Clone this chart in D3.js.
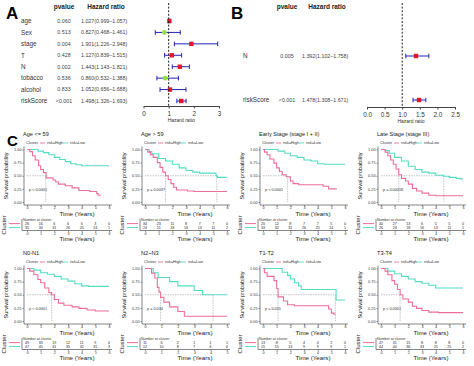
<!DOCTYPE html>
<html>
<head>
<meta charset="utf-8">
<script src="https://cdn.jsdelivr.net/npm/d3@7"></script>
<style>
  body { margin: 0; background: #fff; }
  svg { font-family: "Liberation Sans", Arial, sans-serif; display: block; }
</style>
</head>
<body>
<script>
// ---- forest plot A (multivariate Cox)
const varsA = ['age', 'Sex', 'stage', 'T', 'N', 'tobacco', 'alcohol', 'riskScore'];
const pvalA = ['0.060', '0.513', '0.004', '0.428', '0.002', '0.536', '0.833', '<0.001'];
const hrA = [1.027, 0.827, 1.901, 1.127, 1.443, 0.860, 1.052, 1.498];
const loA = [0.999, 0.468, 1.226, 0.839, 1.143, 0.532, 0.656, 1.326];
const hiA = [1.057, 1.461, 2.948, 1.515, 1.821, 1.388, 1.688, 1.693];

// ---- forest plot B
const varsB = ['N', 'riskScore'];
const pvalB = ['0.005', '<0.001'];
const hrB = [1.392, 1.478];
const loB = [1.102, 1.308];
const hiB = [1.758, 1.671];

// ---- KM subgroups
const kmTitles = ['Age <= 59', 'Age > 59', 'Early Stage (stage I + II)', 'Late Stage (stage III)',
                  'N0-N1', 'N2~N3', 'T1-T2', 'T3-T4'];
const kmPvals = ['p < 0.0001', 'p = 0.0037', 'p < 0.0001', 'p = 0.00058',
                 'p < 0.0001', 'p = 0.034', 'p = 0.055', 'p < 0.0001'];
const kmMaxT = [6, 6, 6, 6, 6, 5, 6, 6];
// [time, survival] knots
const kmHigh = [
  [[0,1],[0.2,0.96],[0.4,0.88],[0.6,0.8],[0.85,0.69],[1.0,0.62],[1.2,0.56],[1.4,0.46],[1.9,0.42],[2.1,0.38],[2.3,0.34],[2.8,0.31],[3.3,0.27],[3.8,0.22],[4.6,0.2],[5.1,0.16],[5.2,0.13],[5.4,0.13]],
  [[0,1],[0.2,0.95],[0.4,0.9],[0.6,0.85],[0.9,0.75],[1.1,0.66],[1.3,0.57],[1.5,0.5],[1.7,0.43],[1.9,0.35],[2.1,0.28],[2.3,0.23],[3.1,0.21],[3.6,0.2],[6,0.2]],
  [[0,1],[0.1,0.95],[0.3,0.9],[0.5,0.82],[0.8,0.74],[1.0,0.65],[1.2,0.58],[1.4,0.52],[1.7,0.48],[2.0,0.4],[2.2,0.35],[2.6,0.33],[4.4,0.3],[4.8,0.25],[5.4,0.25]],
  [[0,1],[0.3,0.95],[0.5,0.88],[0.7,0.8],[0.9,0.72],[1.1,0.63],[1.3,0.52],[1.5,0.45],[1.8,0.4],[2.0,0.34],[2.3,0.26],[2.6,0.21],[3.0,0.17],[3.5,0.13],[4.0,0.12],[6,0.12]],
  [[0,1],[0.2,0.95],[0.5,0.88],[0.8,0.79],[1.0,0.73],[1.3,0.63],[1.6,0.54],[1.8,0.5],[2.0,0.41],[2.3,0.34],[2.7,0.3],[3.3,0.27],[3.8,0.24],[4.4,0.21],[5.0,0.19],[6,0.19]],
  [[0,1],[0.4,0.91],[0.6,0.82],[0.75,0.64],[0.85,0.55],[0.95,0.45],[1.15,0.36],[1.5,0.27],[2.0,0.18],[2.4,0.09],[5,0.09]],
  [[0,1],[0.1,0.92],[0.3,0.85],[0.8,0.77],[1.0,0.62],[1.1,0.46],[1.5,0.38],[1.8,0.31],[2.3,0.29],[4.8,0.23],[5.0,0.15],[5.2,0.13],[5.3,0.13]],
  [[0,1],[0.3,0.95],[0.5,0.88],[0.8,0.77],[1.0,0.7],[1.2,0.6],[1.4,0.5],[1.6,0.42],[2.0,0.36],[2.3,0.28],[2.6,0.24],[3.0,0.2],[3.5,0.17],[4.2,0.16],[6,0.16]]
];
const kmLow = [
  [[0,1],[0.8,0.97],[1.2,0.94],[1.6,0.9],[2.0,0.85],[2.4,0.81],[2.8,0.77],[3.2,0.73],[3.6,0.71],[4.0,0.69],[6,0.69]],
  [[0,1],[0.3,0.96],[0.5,0.92],[1.0,0.83],[1.5,0.78],[2.0,0.72],[2.5,0.65],[3.0,0.6],[3.5,0.57],[4.0,0.55],[5.2,0.5],[5.3,0.47],[6,0.47]],
  [[0,1],[1.1,0.97],[1.6,0.93],[2.0,0.88],[2.5,0.85],[3.0,0.8],[3.5,0.78],[4.0,0.73],[4.5,0.72],[6,0.72]],
  [[0,1],[0.3,0.98],[0.6,0.93],[1.0,0.85],[1.5,0.78],[2.0,0.68],[2.5,0.62],[3.0,0.57],[3.5,0.55],[4.0,0.51],[4.6,0.49],[5.0,0.47],[5.5,0.45],[5.8,0.44],[6,0.44]],
  [[0,1],[0.5,0.97],[1.0,0.92],[1.5,0.89],[2.0,0.85],[2.5,0.8],[3.0,0.76],[3.5,0.71],[4.0,0.67],[4.5,0.66],[6,0.66]],
  [[0,1],[0.5,0.92],[0.8,0.83],[1.5,0.75],[2.0,0.67],[3.0,0.58],[3.5,0.5],[5,0.5]],
  [[0,1],[1.4,0.93],[1.8,0.87],[2.0,0.8],[2.3,0.73],[2.6,0.67],[2.8,0.6],[5.3,0.6],[5.35,0.4],[6,0.4]],
  [[0,1],[0.5,0.95],[1.0,0.9],[1.5,0.85],[2.0,0.8],[2.5,0.75],[3.0,0.72],[3.5,0.68],[4.0,0.63],[6,0.63]]
];
const medHigh = [1.37, 1.5, 1.8, 1.3, 1.8, 0.95, 1.1, 1.4];
const medLow = [null, 5.25, null, 4.6, null, 4.15, 5.3, null];
const riskHigh = [
  [26,16,6,6,6,3,0], [34,23,11,8,7,7,0], [20,12,8,7,7,5,0], [40,27,13,6,5,5,0],
  [49,33,19,12,11,9,0], [11,6,2,1,1,1], [13,8,5,4,4,2,0], [47,31,15,8,8,8,0]
];
const riskLow = [
  [35,34,31,26,25,24,1], [24,21,18,16,13,11,2], [33,32,31,26,25,24,1], [26,23,18,16,13,11,1],
  [47,45,41,35,32,31,3], [12,10,8,7,6,6], [15,15,13,9,9,9,1], [44,40,36,33,25,25,2]
];

const W = 474, H = 366;
const pink = '#ec6f95', teal = '#55dcc3';

const svg = d3.select('body').append('svg')
    .attr('width', W).attr('height', H)
    .attr('viewBox', [0, 0, W, H]);

// panel letters
svg.append('text').attr('x', 6).attr('y', 19).attr('font-size', 17).attr('font-weight', 'bold').text('A');
svg.append('text').attr('x', 231).attr('y', 19).attr('font-size', 17).attr('font-weight', 'bold').text('B');
svg.append('text').attr('x', 7).attr('y', 145.5).attr('font-size', 15).attr('font-weight', 'bold').text('C');

function forest(cfg) {
  const g = svg.append('g');
  const x = d3.scaleLinear().domain(cfg.domain).range(cfg.xr);
  const y = d3.scalePoint().domain(cfg.vars).range(cfg.yr);

  g.append('text').attr('x', cfg.pX).attr('y', 9).attr('font-size', 6.5).attr('font-weight', 'bold')
      .attr('text-anchor', 'middle').attr('fill', '#222').text('pvalue');
  g.append('text').attr('x', cfg.hrX + 25).attr('y', 9).attr('font-size', 6.5).attr('font-weight', 'bold')
      .attr('text-anchor', 'middle').attr('fill', '#222').text('Hazard ratio');

  const rows = g.selectAll('g.row').data(cfg.vars).join('g').attr('class', 'row')
      .attr('transform', d => `translate(0,${y(d)})`);
  rows.append('text').attr('x', cfg.labX).attr('dy', '0.35em').attr('font-size', 6.3).attr('fill', '#333')
      .text(d => d);
  rows.append('text').attr('x', cfg.pX).attr('dy', '0.35em').attr('font-size', 5.3).attr('fill', '#444')
      .attr('text-anchor', 'middle').text((d, i) => cfg.p[i]);
  rows.append('text').attr('x', cfg.hrX).attr('dy', '0.35em').attr('font-size', 5.3).attr('fill', '#444')
      .text((d, i) => `${cfg.hr[i].toFixed(3)}(${cfg.lo[i].toFixed(3)}\u2013${cfg.hi[i].toFixed(3)})`);

  // reference line
  g.append('line').attr('x1', x(1)).attr('x2', x(1)).attr('y1', 3).attr('y2', cfg.axisY)
      .attr('stroke', '#222').attr('stroke-width', 1).attr('stroke-dasharray', '2,1.6');

  // CIs
  rows.append('line').attr('x1', (d, i) => x(cfg.lo[i])).attr('x2', (d, i) => x(cfg.hi[i]))
      .attr('stroke', '#2424b4').attr('stroke-width', 1);
  ['lo', 'hi'].forEach(k => rows.append('line')
      .attr('x1', (d, i) => x(cfg[k][i])).attr('x2', (d, i) => x(cfg[k][i]))
      .attr('y1', -2.3).attr('y2', 2.3).attr('stroke', '#2424b4').attr('stroke-width', 1));
  rows.each(function (d, i) {
    const r = d3.select(this);
    if (cfg.hr[i] < 1) {
      r.append('circle').attr('cx', x(cfg.hr[i])).attr('r', 2.4).attr('fill', '#8fe04a');
    } else {
      r.append('rect').attr('x', x(cfg.hr[i]) - 2.2).attr('y', -2.2).attr('width', 4.4).attr('height', 4.4)
          .attr('fill', '#e5142e');
    }
  });

  const ax = g.append('g').attr('transform', `translate(0,${cfg.axisY})`)
      .call(d3.axisBottom(x).tickValues(cfg.ticks).tickFormat(cfg.fmt).tickSize(2.5).tickSizeOuter(0));
  ax.select('.domain').attr('stroke', '#444');
  ax.selectAll('line').attr('stroke', '#444');
  ax.selectAll('text').attr('font-size', 6.3).attr('fill', '#333').attr('font-family', null);
  g.append('text').attr('x', (cfg.xr[0] + cfg.xr[1]) / 2).attr('y', cfg.axisY + 16).attr('text-anchor', 'middle')
      .attr('font-size', 5).attr('fill', '#333').text('Hazard ratio');
}

forest({ vars: varsA, p: pvalA, hr: hrA, lo: loA, hi: hiA, domain: [0, 3], xr: [143.5, 219], yr: [21, 101],
  labX: 21, pX: 64, hrX: 81, axisY: 106, ticks: [0, 1, 2, 3], fmt: d3.format('d') });
forest({ vars: varsB, p: pvalB, hr: hrB, lo: loB, hi: hiB, domain: [0, 2.5], xr: [367, 455], yr: [56, 100],
  labX: 243, pX: 287, hrX: 302, axisY: 107, ticks: [0, 0.5, 1, 1.5, 2, 2.5], fmt: d3.format('.1f') });

// ---- KM panels
function km(i) {
  const col = i % 4, row = Math.floor(i / 4);
  const ox = col * 118, oy = row * 119;
  const g = svg.append('g');
  const x = d3.scaleLinear().domain([0, kmMaxT[i]]).range([ox + 27, ox + 109]);
  const y = d3.scaleLinear().domain([0, 1]).range([oy + 202, oy + 149.5]);
  const ticks = d3.range(0, kmMaxT[i] + 1);
  const axY = oy + 205, tabY = oy + 230.5;

  g.append('text').attr('x', ox + 23).attr('y', oy + 136).attr('font-size', 5.6).attr('fill', '#222').text(kmTitles[i]);

  // legend
  const lg = g.append('g').attr('transform', `translate(0,${oy + 143})`).attr('font-size', 3.8).attr('fill', '#333');
  lg.append('text').attr('x', ox + 26).attr('dy', '0.35em').text('Cluster');
  lg.append('line').attr('x1', ox + 40).attr('x2', ox + 45).attr('stroke', pink).attr('stroke-width', 0.9);
  lg.append('text').attr('x', ox + 47).attr('dy', '0.35em').text('risk=High');
  lg.append('line').attr('x1', ox + 63).attr('x2', ox + 68).attr('stroke', teal).attr('stroke-width', 0.9);
  lg.append('text').attr('x', ox + 70).attr('dy', '0.35em').text('risk=Low');

  // axes
  g.append('path').attr('d', `M${ox + 24},${oy + 146.5}V${axY}H${ox + 112}`)
      .attr('fill', 'none').attr('stroke', '#333').attr('stroke-width', 0.6);
  const ya = g.append('g').attr('transform', `translate(${ox + 24},0)`)
      .call(d3.axisLeft(y).tickValues([0, 0.25, 0.5, 0.75, 1]).tickFormat(d3.format('.2f')).tickSize(1.5));
  const xa = g.append('g').attr('transform', `translate(0,${axY})`)
      .call(d3.axisBottom(x).tickValues(ticks).tickFormat(d3.format('d')).tickSize(1.5));
  [ya, xa].forEach(a => {
    a.select('.domain').remove();
    a.selectAll('line').attr('stroke', '#333').attr('stroke-width', 0.5);
    a.selectAll('text').attr('font-size', 3.8).attr('fill', '#333').attr('font-family', null);
  });
  ya.selectAll('text').attr('x', -2.5);
  xa.selectAll('text').attr('y', 1.8);
  g.append('text').attr('transform', `translate(${ox + 8},${oy + 176}) rotate(-90)`).attr('text-anchor', 'middle')
      .attr('font-size', 5.6).attr('fill', '#222').text('Survival probability');
  g.append('text').attr('x', ox + 77).attr('y', oy + 216).attr('text-anchor', 'middle')
      .attr('font-size', 6.2).attr('fill', '#222').text('Time (Years)');

  // median lines
  const meds = [medHigh[i], medLow[i]].filter(m => m != null);
  const mx = d3.max(meds);
  g.append('line').attr('x1', x(0)).attr('x2', x(mx)).attr('y1', y(0.5)).attr('y2', y(0.5))
      .attr('stroke', '#888').attr('stroke-width', 0.5).attr('stroke-dasharray', '1.5,1');
  meds.forEach(m => g.append('line').attr('x1', x(m)).attr('x2', x(m)).attr('y1', y(0.5)).attr('y2', y(0))
      .attr('stroke', '#888').attr('stroke-width', 0.5).attr('stroke-dasharray', '1.5,1'));

  // curves
  const line = d3.line().x(d => x(d[0])).y(d => y(d[1])).curve(d3.curveStepAfter);
  g.append('path').attr('d', line(kmLow[i])).attr('fill', 'none').attr('stroke', teal).attr('stroke-width', 1.1);
  g.append('path').attr('d', line(kmHigh[i])).attr('fill', 'none').attr('stroke', pink).attr('stroke-width', 1.1);

  g.append('text').attr('x', ox + 29).attr('y', oy + 190.5).attr('font-size', 3.8).attr('fill', '#333').text(kmPvals[i]);

  // risk table
  g.append('text').attr('x', ox + 23).attr('y', oy + 220.8).attr('font-size', 3.6).attr('fill', '#333').text('Number at cluster');
  g.append('path').attr('d', `M${ox + 22},${oy + 219}V${tabY}H${ox + 112}`)
      .attr('fill', 'none').attr('stroke', '#333').attr('stroke-width', 0.6);
  [[riskHigh[i], pink, 223.6], [riskLow[i], teal, 227.6]].forEach(([vals, c, yy]) => {
    g.append('line').attr('x1', ox + 9).attr('x2', ox + 20).attr('y1', oy + yy).attr('y2', oy + yy)
        .attr('stroke', c).attr('stroke-width', 1);
    g.selectAll(null).data(vals).join('text')
        .attr('x', (d, k) => x(ticks[k])).attr('y', oy + yy).attr('dy', '0.35em').attr('text-anchor', 'middle')
        .attr('font-size', 3.6).attr('fill', '#222').text(d => d);
  });
  const ta = g.append('g').attr('transform', `translate(0,${tabY})`)
      .call(d3.axisBottom(x).tickValues(ticks).tickFormat(d3.format('d')).tickSize(1.5));
  ta.select('.domain').remove();
  ta.selectAll('line').attr('stroke', '#333').attr('stroke-width', 0.5);
  ta.selectAll('text').attr('font-size', 3.8).attr('fill', '#333').attr('font-family', null).attr('y', 1.8);
  g.append('text').attr('transform', `translate(${ox + 6},${oy + 225}) rotate(-90)`).attr('text-anchor', 'middle')
      .attr('font-size', 6).attr('fill', '#222').text('Cluster');
  g.append('text').attr('x', ox + 77).attr('y', oy + 241).attr('text-anchor', 'middle')
      .attr('font-size', 6.2).attr('fill', '#222').text('Time (Years)');
}

d3.range(8).forEach(km);
</script>
</body>
</html>
